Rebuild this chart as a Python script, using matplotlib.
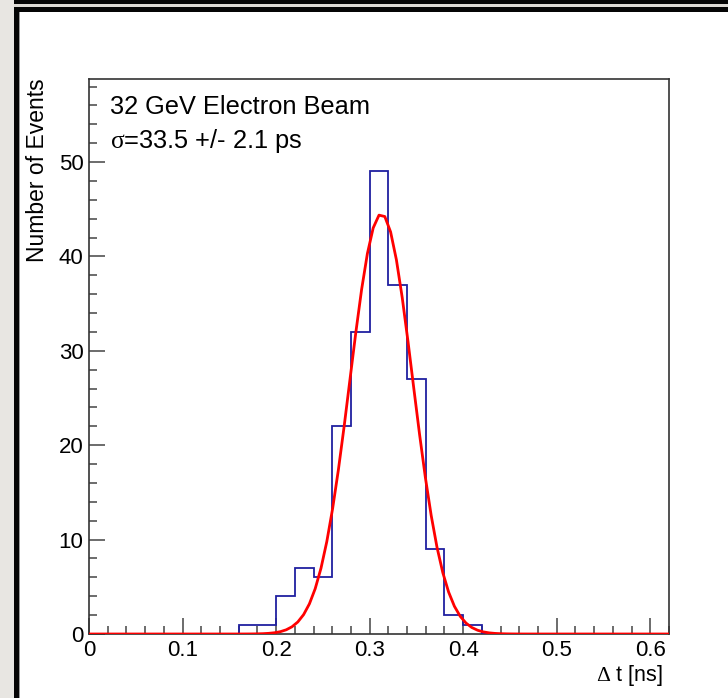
import numpy as np
import matplotlib
matplotlib.use("Agg")
import matplotlib.pyplot as plt
from matplotlib.patches import Rectangle
from matplotlib.ticker import MultipleLocator

plt.rcParams['font.family'] = ['Liberation Sans', 'DejaVu Sans']
plt.rcParams['mathtext.fontset'] = 'custom'
plt.rcParams['mathtext.rm'] = 'Liberation Serif'
plt.rcParams['mathtext.it'] = 'Liberation Serif:italic'

# ---- data ----
bin_width = 0.02
x_min, x_max = 0.0, 0.62
counts = [0, 0, 0, 0, 0, 0, 0, 0, 1, 1, 4, 7, 6, 22, 32, 49, 37, 27, 9, 2, 1,
          0, 0, 0, 0, 0, 0, 0, 0, 0, 0]
fit_amp = 44.5
fit_mean = 0.3125
fit_sigma = 0.0335
title_line1 = "32 GeV Electron Beam"
title_line2 = r"$\mathrm{\sigma}$=33.5 +/- 2.1 ps"
xlabel = r"$\mathrm{\Delta}$ t [ns]"
ylabel = "Number of Events"
y_max = 58.8

W, H = 728, 698
fig = plt.figure(figsize=(W / 100, H / 100), dpi=100)
fig.patch.set_facecolor('white')

def px_rect(x, y, w, h, color):
    fig.add_artist(Rectangle((x / W, 1 - (y + h) / H), w / W, h / H,
                             transform=fig.transFigure, color=color, lw=0, zorder=-5))

# frame decorations
px_rect(0, 0, 14, H, '#e8e6e2')
px_rect(14, 0, W - 14, 4, '#050505')
px_rect(14, 4, W - 14, 3, '#dcd9d4')
px_rect(14, 7, W - 14, 5, '#050505')
px_rect(14, 7, 5, H - 7, '#050505')
px_rect(19, 12, 1, H - 12, '#9a9a9a')

ax_l, ax_r, ax_t, ax_b = 89, 669, 79, 634
ax = fig.add_axes([ax_l / W, 1 - ax_b / H, (ax_r - ax_l) / W, (ax_b - ax_t) / H])
ax.set_facecolor('none')

edges = np.round(np.arange(len(counts) + 1) * bin_width + x_min, 4)
ax.stairs(counts, edges, color='#2020a0', lw=1.3, zorder=3)

xf = np.linspace(x_min, x_max, 101)
yf = fit_amp * np.exp(-0.5 * ((xf - fit_mean) / fit_sigma) ** 2)
ax.plot(xf, yf, color='#ff0000', lw=2.0, zorder=4)

ax.set_xlim(x_min, x_max)
ax.set_ylim(0, y_max)
ax.xaxis.set_major_locator(MultipleLocator(0.1))
ax.xaxis.set_minor_locator(MultipleLocator(0.02))
ax.yaxis.set_major_locator(MultipleLocator(10))
ax.yaxis.set_minor_locator(MultipleLocator(2))
ax.xaxis.set_major_formatter(matplotlib.ticker.FuncFormatter(lambda v, p: f"{v:g}"))
ax.tick_params(which='both', direction='in', top=False, right=False,
               color='#444444', labelsize=16, labelcolor='black', width=1.1)
ax.tick_params(which='major', length=11.5, pad=4)
ax.tick_params(axis='x', which='major', pad=4)
ax.tick_params(which='minor', length=5.8)
for s in ax.spines.values():
    s.set_color('#333333')
    s.set_linewidth(1.2)

fig.text(38 / W, 1 - 78 / H, ylabel, rotation=90, ha='center', va='top', fontsize=16.5)
fig.text(663 / W, 1 - 663 / H, xlabel, ha='right', va='top', fontsize=15.5)
fig.text(110 / W, 1 - 114 / H, title_line1, ha='left', va='baseline', fontsize=18.3)
fig.text(110 / W, 1 - 148 / H, title_line2, ha='left', va='baseline', fontsize=18.3)

fig.savefig('out.png', dpi=100)
